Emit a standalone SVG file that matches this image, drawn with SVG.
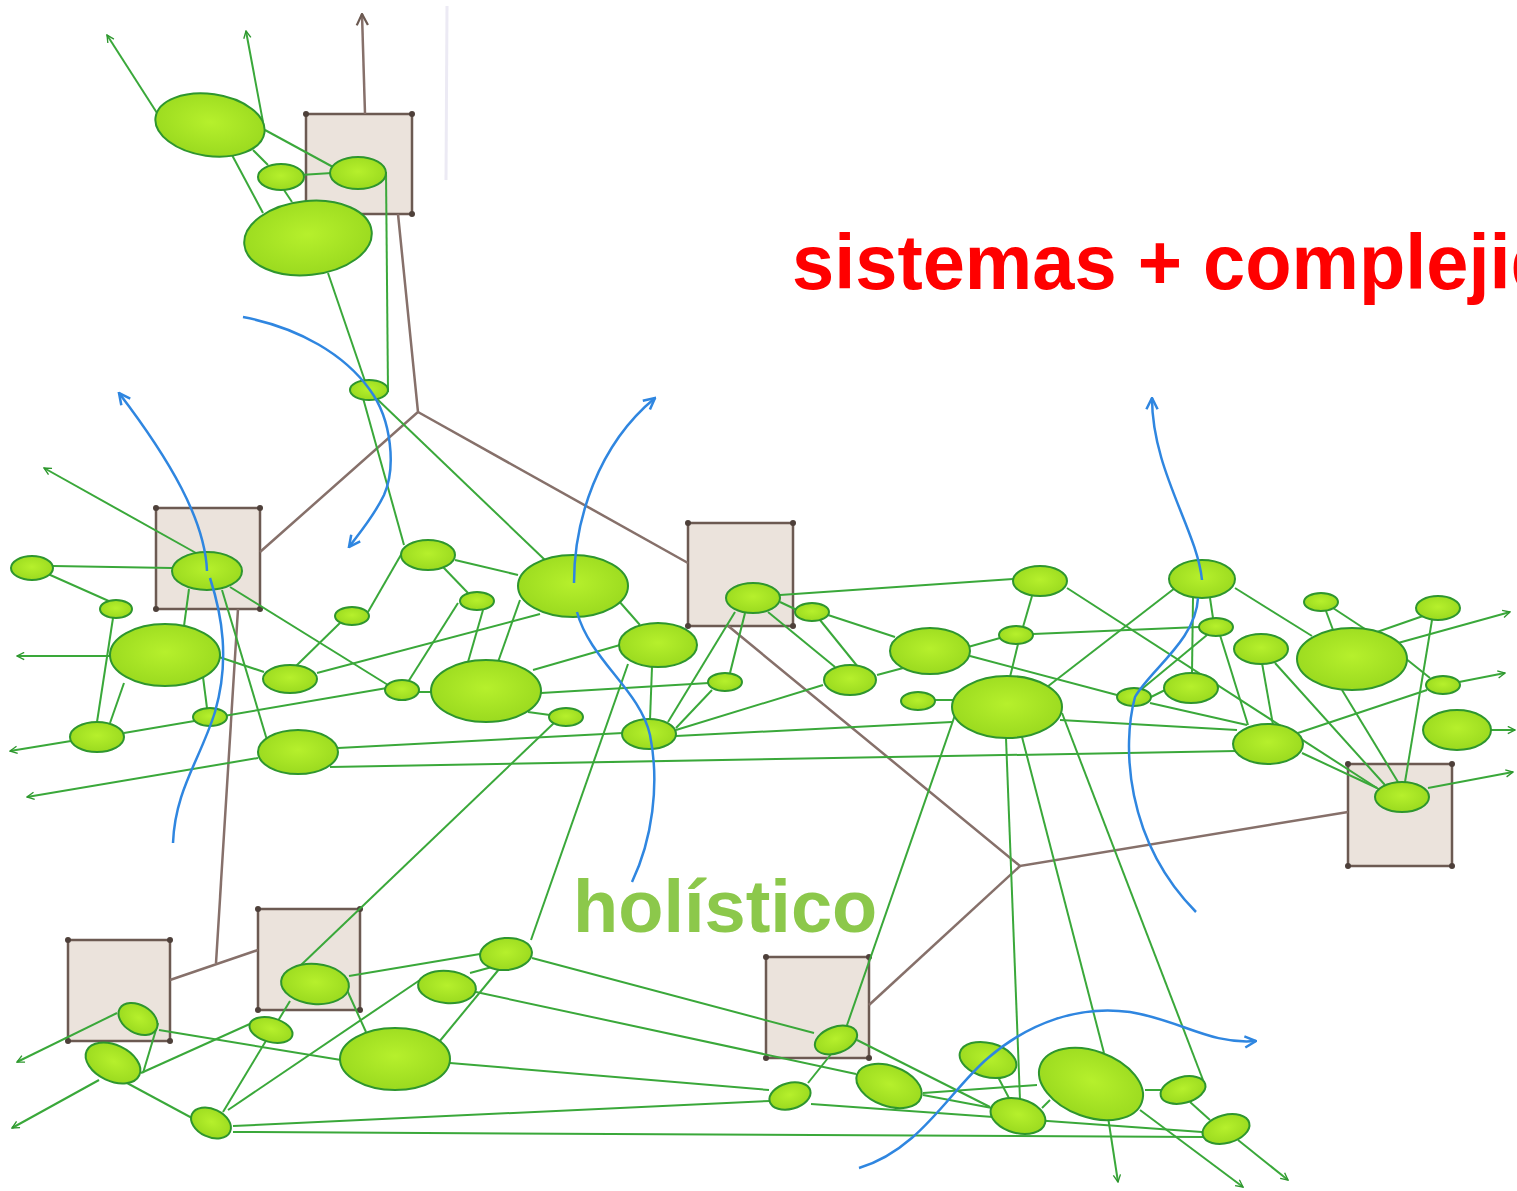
<svg xmlns="http://www.w3.org/2000/svg" width="1517" height="1191" viewBox="0 0 1517 1191">
<defs>
<style>
.ln{stroke:#3aa83a;stroke-width:2;fill:none}
.br{stroke:#86706a;stroke-width:2.5;fill:none}
.bl{stroke:#2f86e0;stroke-width:2.5;fill:none}
.nd ellipse{fill:url(#gf);stroke:#2e962e;stroke-width:2}
.bx rect{fill:#ebe3dc;stroke:#6c5a52;stroke-width:2.5}
.bx circle{fill:#4e403a}
.t1{font-family:"Liberation Sans",Arial,sans-serif;font-weight:bold;font-size:77px;fill:#ff0000}
.t2{font-family:"Liberation Sans",Arial,sans-serif;font-weight:bold;font-size:74px;fill:#8cc84b}
</style>
<radialGradient id="gf" cx="50%" cy="45%" r="60%">
<stop offset="0" stop-color="#b6f02c"/>
<stop offset="1" stop-color="#98d81e"/>
</radialGradient>
<marker id="ag" viewBox="0 0 10 10" refX="9" refY="5" markerWidth="9" markerHeight="9" markerUnits="userSpaceOnUse" orient="auto">
<path d="M1,1 L9,5 L1,9" fill="none" stroke="#2e962e" stroke-width="1.5"/>
</marker>
<marker id="ab" viewBox="0 0 10 10" refX="9" refY="5" markerWidth="14" markerHeight="14" markerUnits="userSpaceOnUse" orient="auto">
<path d="M1,1 L9,5 L1,9" fill="none" stroke="#2f86e0" stroke-width="1.8"/>
</marker>
<marker id="ar" viewBox="0 0 10 10" refX="9" refY="5" markerWidth="14" markerHeight="14" markerUnits="userSpaceOnUse" orient="auto">
<path d="M1,1 L9,5 L1,9" fill="none" stroke="#6c5a52" stroke-width="1.6"/>
</marker>
</defs>
<rect width="1517" height="1191" fill="#ffffff"/>
<line x1="447" y1="6" x2="446" y2="180" stroke="#eceaf4" stroke-width="3"/>

<g id="boxes">
<g id="B1" class="bx"><rect x="306" y="114" width="106" height="100"/><circle cx="306" cy="114" r="3"/><circle cx="412" cy="114" r="3"/><circle cx="306" cy="214" r="3"/><circle cx="412" cy="214" r="3"/></g>
<g id="B2" class="bx"><rect x="156" y="508" width="104" height="101"/><circle cx="156" cy="508" r="3"/><circle cx="260" cy="508" r="3"/><circle cx="156" cy="609" r="3"/><circle cx="260" cy="609" r="3"/></g>
<g id="B3" class="bx"><rect x="688" y="523" width="105" height="103"/><circle cx="688" cy="523" r="3"/><circle cx="793" cy="523" r="3"/><circle cx="688" cy="626" r="3"/><circle cx="793" cy="626" r="3"/></g>
<g id="B4" class="bx"><rect x="1348" y="764" width="104" height="102"/><circle cx="1348" cy="764" r="3"/><circle cx="1452" cy="764" r="3"/><circle cx="1348" cy="866" r="3"/><circle cx="1452" cy="866" r="3"/></g>
<g id="B5" class="bx"><rect x="68" y="940" width="102" height="101"/><circle cx="68" cy="940" r="3"/><circle cx="170" cy="940" r="3"/><circle cx="68" cy="1041" r="3"/><circle cx="170" cy="1041" r="3"/></g>
<g id="B6" class="bx"><rect x="258" y="909" width="102" height="101"/><circle cx="258" cy="909" r="3"/><circle cx="360" cy="909" r="3"/><circle cx="258" cy="1010" r="3"/><circle cx="360" cy="1010" r="3"/></g>
<g id="B7" class="bx"><rect x="766" y="957" width="103" height="101"/><circle cx="766" cy="957" r="3"/><circle cx="869" cy="957" r="3"/><circle cx="766" cy="1058" r="3"/><circle cx="869" cy="1058" r="3"/></g>
</g>

<g id="connectors">
<g class="br">
<path d="M365,114 L362,14" marker-end="url(#ar)"/>
<path d="M398,214 L418,412 L260,552"/>
<path d="M418,412 L688,563"/>
<path d="M238,609 L216,963"/>
<path d="M170,980 L258,950"/>
<path d="M727,625 L1020,866 L1348,812"/>
<path d="M1020,866 L869,1005"/>
</g>
<g class="ln">
<path d="M157,113 L107,35" marker-end="url(#ag)"/>
<path d="M263,122 L246,31" marker-end="url(#ag)"/>
<path d="M196,553 L44,468" marker-end="url(#ag)"/>
<path d="M110,656 L17,656" marker-end="url(#ag)"/>
<path d="M71,741 L10,751" marker-end="url(#ag)"/>
<path d="M258,758 L27,797" marker-end="url(#ag)"/>
<path d="M1398,643 L1510,612" marker-end="url(#ag)"/>
<path d="M1459,682 L1505,673" marker-end="url(#ag)"/>
<path d="M1491,730 L1515,730" marker-end="url(#ag)"/>
<path d="M1428,788 L1513,772" marker-end="url(#ag)"/>
<path d="M117,1013 L17,1062" marker-end="url(#ag)"/>
<path d="M99,1080 L12,1128" marker-end="url(#ag)"/>
<path d="M1108,1117 L1118,1182" marker-end="url(#ag)"/>
<path d="M1140,1110 L1243,1187" marker-end="url(#ag)"/>
<path d="M1238,1140 L1288,1180" marker-end="url(#ag)"/>

<path d="M265,130 L333,167"/>
<path d="M253,150 L268,165"/>
<path d="M232,155 L263,213"/>
<path d="M300,175 L332,173"/>
<path d="M284,190 L292,202"/>
<path d="M386,172 L388,392"/>
<path d="M328,273 L367,387"/>
<path d="M363,398 L404,545"/>
<path d="M376,398 L545,560"/>

<path d="M53,566 L172,568"/>
<path d="M48,574 L111,602"/>
<path d="M113,618 L97,722"/>
<path d="M124,683 L110,723"/>
<path d="M189,589 L184,626"/>
<path d="M203,677 L207,708"/>
<path d="M222,590 L267,740"/>
<path d="M230,587 L388,685"/>
<path d="M219,657 L264,672"/>
<path d="M296,666 L342,621"/>
<path d="M368,612 L402,553"/>
<path d="M443,567 L468,593"/>
<path d="M455,560 L518,575"/>
<path d="M458,603 L408,682"/>
<path d="M483,610 L468,662"/>
<path d="M520,600 L498,662"/>
<path d="M317,673 L540,614"/>
<path d="M618,600 L640,625"/>
<path d="M124,733 L387,688"/>
<path d="M419,692 L432,692"/>
<path d="M528,712 L550,715"/>
<path d="M533,670 L620,645"/>
<path d="M541,693 L709,683"/>
<path d="M652,667 L650,720"/>
<path d="M338,748 L623,733"/>
<path d="M330,767 L1236,751"/>
<path d="M555,722 L300,966"/>
<path d="M628,664 L531,940"/>

<path d="M780,595 L1013,579"/>
<path d="M780,602 L797,610"/>
<path d="M768,612 L835,667"/>
<path d="M820,620 L858,667"/>
<path d="M828,615 L895,637"/>
<path d="M877,675 L907,667"/>
<path d="M745,613 L730,673"/>
<path d="M735,612 L668,722"/>
<path d="M676,728 L712,690"/>
<path d="M676,730 L823,685"/>
<path d="M676,736 L952,722"/>
<path d="M968,647 L1000,638"/>
<path d="M1023,627 L1032,596"/>
<path d="M1018,644 L1010,677"/>
<path d="M1033,634 L1199,627"/>
<path d="M970,656 L1117,695"/>
<path d="M935,700 L953,700"/>
<path d="M1047,687 L1175,588"/>
<path d="M1067,588 L1380,790"/>
<path d="M1210,598 L1213,618"/>
<path d="M1193,598 L1192,673"/>
<path d="M1207,635 L1137,693"/>
<path d="M1235,588 L1312,636"/>
<path d="M1220,635 L1248,725"/>
<path d="M1150,703 L1247,725"/>
<path d="M1151,697 L1165,690"/>
<path d="M1060,720 L1237,730"/>
<path d="M1262,663 L1273,725"/>
<path d="M1275,663 L1385,785"/>
<path d="M1342,690 L1398,782"/>
<path d="M1432,620 L1405,782"/>
<path d="M1302,753 L1377,788"/>
<path d="M1298,733 L1427,690"/>
<path d="M1326,611 L1333,630"/>
<path d="M1333,608 L1368,631"/>
<path d="M1377,632 L1423,616"/>
<path d="M1405,658 L1430,678"/>

<path d="M955,715 L846,1028"/>
<path d="M1006,738 L1020,1100"/>
<path d="M1022,737 L1104,1053"/>
<path d="M1062,713 L1203,1080"/>

<path d="M832,1053 L808,1083"/>
<path d="M857,1040 L990,1107"/>
<path d="M923,1093 L1037,1085"/>
<path d="M923,1095 L992,1108"/>
<path d="M998,1077 L1010,1100"/>
<path d="M1042,1108 L1050,1100"/>
<path d="M1145,1090 L1162,1090"/>
<path d="M1190,1102 L1210,1120"/>
<path d="M532,958 L814,1033"/>
<path d="M476,992 L856,1074"/>
<path d="M450,1063 L769,1090"/>
<path d="M233,1126 L770,1101"/>
<path d="M811,1104 L1202,1132"/>
<path d="M233,1132 L1203,1137"/>
<path d="M159,1030 L341,1060"/>
<path d="M158,1023 L143,1073"/>
<path d="M127,1083 L192,1118"/>
<path d="M141,1073 L252,1023"/>
<path d="M223,1112 L290,1001"/>
<path d="M228,1110 L420,980"/>
<path d="M347,990 L366,1032"/>
<path d="M349,976 L480,954"/>
<path d="M470,973 L492,967"/>
<path d="M500,968 L439,1042"/>
</g>
</g>

<g id="nodes" class="nd">
<g id="E1"><ellipse cx="210" cy="125" rx="55" ry="31" transform="rotate(8 210 125)"/></g>
<g id="E2"><ellipse cx="281" cy="177" rx="23" ry="13"/></g>
<g id="E3"><ellipse cx="358" cy="173" rx="28" ry="16"/></g>
<g id="E4"><ellipse cx="308" cy="238" rx="64" ry="37" transform="rotate(-6 308 238)"/></g>
<g id="E5"><ellipse cx="369" cy="390" rx="19" ry="10"/></g>
<g id="E6"><ellipse cx="207" cy="571" rx="35" ry="19"/></g>
<g id="E7"><ellipse cx="32" cy="568" rx="21" ry="12"/></g>
<g id="E8"><ellipse cx="116" cy="609" rx="16" ry="9"/></g>
<g id="E9"><ellipse cx="165" cy="655" rx="55" ry="31"/></g>
<g id="E10"><ellipse cx="97" cy="737" rx="27" ry="15"/></g>
<g id="E11"><ellipse cx="210" cy="717" rx="17" ry="9"/></g>
<g id="E12"><ellipse cx="298" cy="752" rx="40" ry="22"/></g>
<g id="E13"><ellipse cx="290" cy="679" rx="27" ry="14"/></g>
<g id="E14"><ellipse cx="352" cy="616" rx="17" ry="9"/></g>
<g id="E15"><ellipse cx="428" cy="555" rx="27" ry="15"/></g>
<g id="E16"><ellipse cx="477" cy="601" rx="17" ry="9"/></g>
<g id="E17"><ellipse cx="573" cy="586" rx="55" ry="31"/></g>
<g id="E18"><ellipse cx="402" cy="690" rx="17" ry="10"/></g>
<g id="E19"><ellipse cx="486" cy="691" rx="55" ry="31"/></g>
<g id="E20"><ellipse cx="566" cy="717" rx="17" ry="9"/></g>
<g id="E21"><ellipse cx="658" cy="645" rx="39" ry="22"/></g>
<g id="E22"><ellipse cx="649" cy="734" rx="27" ry="15"/></g>
<g id="E23"><ellipse cx="725" cy="682" rx="17" ry="9"/></g>
<g id="E24"><ellipse cx="753" cy="598" rx="27" ry="15"/></g>
<g id="E25"><ellipse cx="812" cy="612" rx="17" ry="9"/></g>
<g id="E26"><ellipse cx="930" cy="651" rx="40" ry="23"/></g>
<g id="E27"><ellipse cx="1016" cy="635" rx="17" ry="9"/></g>
<g id="E28"><ellipse cx="1040" cy="581" rx="27" ry="15"/></g>
<g id="E29"><ellipse cx="850" cy="680" rx="26" ry="15"/></g>
<g id="E31"><ellipse cx="918" cy="701" rx="17" ry="9"/></g>
<g id="E32"><ellipse cx="1007" cy="707" rx="55" ry="31"/></g>
<g id="E33"><ellipse cx="1134" cy="697" rx="17" ry="9"/></g>
<g id="E34"><ellipse cx="1191" cy="688" rx="27" ry="15"/></g>
<g id="E35"><ellipse cx="1216" cy="627" rx="17" ry="9"/></g>
<g id="E36"><ellipse cx="1202" cy="579" rx="33" ry="19"/></g>
<g id="E37"><ellipse cx="1261" cy="649" rx="27" ry="15"/></g>
<g id="E38"><ellipse cx="1321" cy="602" rx="17" ry="9"/></g>
<g id="E39"><ellipse cx="1352" cy="659" rx="55" ry="31"/></g>
<g id="E40"><ellipse cx="1438" cy="608" rx="22" ry="12"/></g>
<g id="E41"><ellipse cx="1443" cy="685" rx="17" ry="9"/></g>
<g id="E42"><ellipse cx="1457" cy="730" rx="34" ry="20"/></g>
<g id="E43"><ellipse cx="1268" cy="744" rx="35" ry="20"/></g>
<g id="E44"><ellipse cx="1402" cy="797" rx="27" ry="15"/></g>
<g id="E45"><ellipse cx="138" cy="1019" rx="21" ry="14" transform="rotate(30 138 1019)"/></g>
<g id="E46"><ellipse cx="113" cy="1063" rx="29" ry="18" transform="rotate(25 113 1063)"/></g>
<g id="E47"><ellipse cx="211" cy="1123" rx="21" ry="14" transform="rotate(25 211 1123)"/></g>
<g id="E48"><ellipse cx="271" cy="1030" rx="22" ry="12" transform="rotate(15 271 1030)"/></g>
<g id="E49"><ellipse cx="315" cy="984" rx="34" ry="20" transform="rotate(5 315 984)"/></g>
<g id="E50"><ellipse cx="447" cy="987" rx="29" ry="16" transform="rotate(5 447 987)"/></g>
<g id="E51"><ellipse cx="506" cy="954" rx="26" ry="16" transform="rotate(-5 506 954)"/></g>
<g id="E52"><ellipse cx="395" cy="1059" rx="55" ry="31"/></g>
<g id="E53"><ellipse cx="836" cy="1040" rx="22" ry="13" transform="rotate(-20 836 1040)"/></g>
<g id="E54"><ellipse cx="790" cy="1096" rx="21" ry="13" transform="rotate(-15 790 1096)"/></g>
<g id="E55"><ellipse cx="889" cy="1086" rx="34" ry="20" transform="rotate(20 889 1086)"/></g>
<g id="E56"><ellipse cx="988" cy="1060" rx="29" ry="17" transform="rotate(15 988 1060)"/></g>
<g id="E57"><ellipse cx="1018" cy="1116" rx="28" ry="17" transform="rotate(15 1018 1116)"/></g>
<g id="E58"><ellipse cx="1091" cy="1084" rx="54" ry="33" transform="rotate(20 1091 1084)"/></g>
<g id="E59"><ellipse cx="1183" cy="1090" rx="23" ry="13" transform="rotate(-15 1183 1090)"/></g>
<g id="E60"><ellipse cx="1226" cy="1129" rx="24" ry="14" transform="rotate(-15 1226 1129)"/></g>
</g>

<g id="flows" class="bl">
<path d="M243,317 C300,328 345,355 370,390 C392,420 396,468 384,495 C374,516 361,531 349,547" marker-end="url(#ab)"/>
<path d="M207,571 C205,520 170,460 119,393" marker-end="url(#ab)"/>
<path d="M210,578 C222,615 230,660 215,712 C200,760 175,790 173,843"/>
<path d="M574,583 C574,520 598,445 655,398" marker-end="url(#ab)"/>
<path d="M577,612 C590,660 640,690 650,735 C660,785 652,840 632,882"/>
<path d="M1202,580 C1197,530 1152,470 1152,398" marker-end="url(#ab)"/>
<path d="M1198,598 C1196,640 1150,670 1135,697 C1122,745 1125,840 1196,912"/>
<path d="M859,1168 C920,1150 950,1090 988,1058 C1030,1022 1080,1005 1130,1012 C1180,1020 1210,1045 1256,1041" marker-end="url(#ab)"/>
</g>

<g id="labels">
<text class="t1" transform="translate(792,289) scale(0.985,1)" x="0" y="0">sistemas + complejidad</text>
<text class="t2" x="573" y="932">holístico</text>
</g>
</svg>
